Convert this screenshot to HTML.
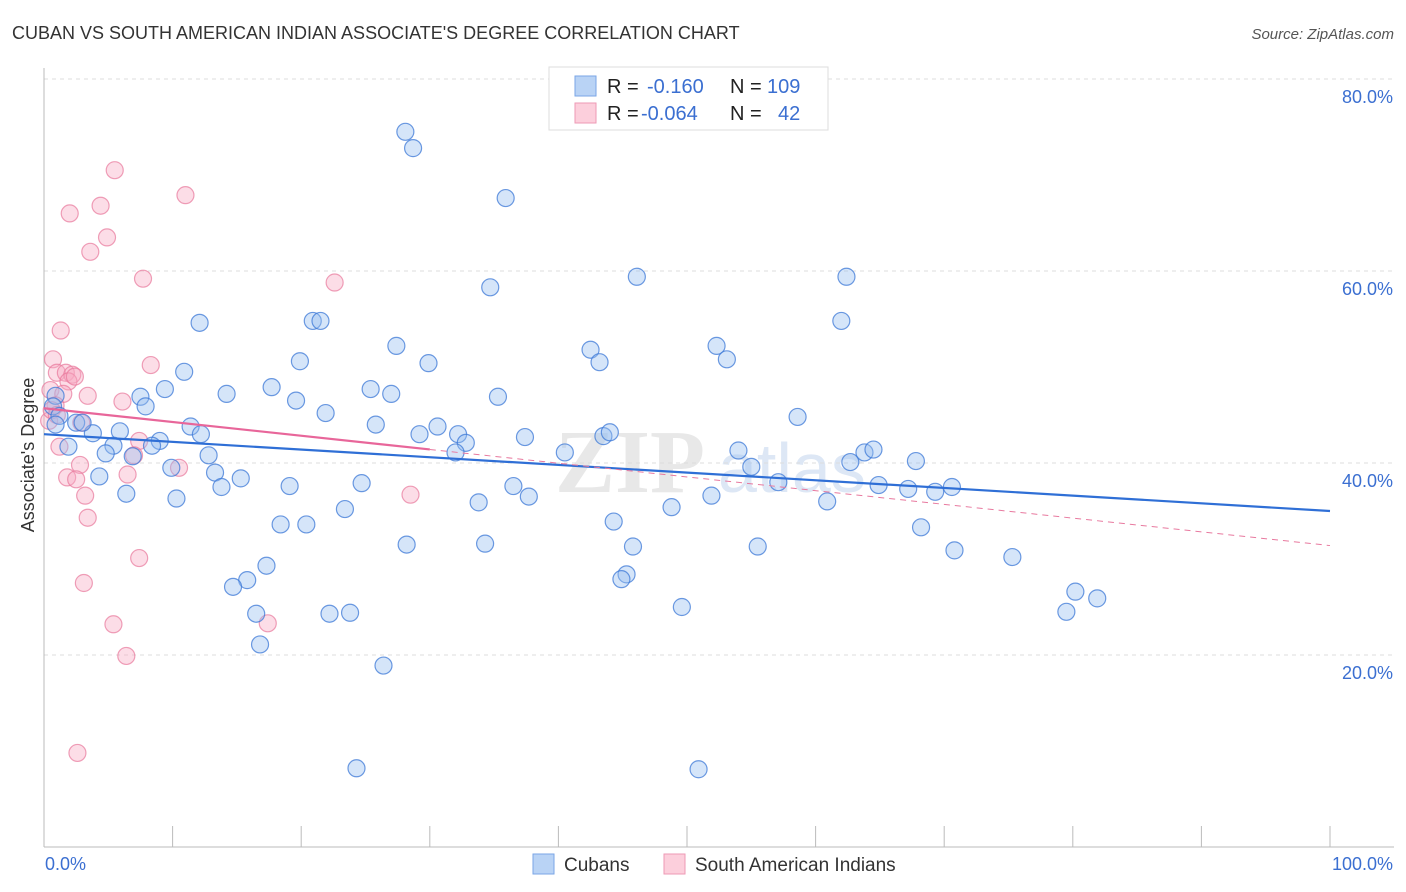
<!DOCTYPE html>
<html><head><meta charset="utf-8"><style>
body{margin:0;background:#fff;font-family:"Liberation Sans",sans-serif}
svg{display:block}
</style></head><body>
<svg id="chart" width="1406" height="892" xmlns="http://www.w3.org/2000/svg">
<text x="12" y="39" font-size="18" fill="#333">CUBAN VS SOUTH AMERICAN INDIAN ASSOCIATE'S DEGREE CORRELATION CHART</text>
<text x="1394" y="39" font-size="15" fill="#555" font-style="italic" text-anchor="end">Source: ZipAtlas.com</text>
<text x="555" y="492" font-size="90" fill="#e8e8e8" font-family="Liberation Serif,serif" font-weight="bold">ZIP</text>
<text x="718" y="492" font-size="70" fill="#dde7f5">atlas</text>
<g id="grid"></g>
<g id="axes"></g>
<g id="marks"></g>
<text x="34" y="455" font-size="18" fill="#333" text-anchor="middle" transform="rotate(-90 34 455)">Associate's Degree</text>
<g>
<rect x="549" y="67" width="279" height="63" fill="#fff" stroke="#ddd"/>
<rect x="575" y="76" width="21" height="20" fill="#b9d3f5" stroke="#7aa6e6"/>
<rect x="575" y="103" width="21" height="20" fill="#fccfdc" stroke="#ee9ab5"/>
<text x="607" y="93" font-size="20" fill="#222">R = <tspan fill="#3b6fd1" x="647">-0.160</tspan><tspan fill="#222" x="730">N = </tspan><tspan fill="#3b6fd1" x="767">109</tspan></text>
<text x="607" y="120" font-size="20" fill="#222">R = <tspan fill="#3b6fd1" x="641">-0.064</tspan><tspan fill="#222" x="730">N = </tspan><tspan fill="#3b6fd1" x="778">42</tspan></text>
</g>
<g>
<rect x="533" y="854" width="21" height="20" fill="#b9d3f5" stroke="#7aa6e6"/>
<text x="564" y="871" font-size="19" fill="#333">Cubans</text>
<rect x="664" y="854" width="21" height="20" fill="#fccfdc" stroke="#ee9ab5"/>
<text x="695" y="871" font-size="19" fill="#333">South American Indians</text>
</g>
</svg>
<script>
const yTicks=[20,40,60,80];
const yTickLabels=["20.0%","40.0%","60.0%","80.0%"];
const xTicks=[0,10,20,30,40,50,60,70,80,90,100];
const blueX=[28.1,28.7,35.9,34.7,46.1,62.4,12.1,20.9,21.5,62.0,27.4,42.5,52.3,53.1,43.2,29.9,19.9,10.9,9.4,17.7,25.4,27.0,14.2,7.5,19.6,35.3,7.9,0.9,0.7,1.2,2.5,21.9,58.6,25.8,11.4,30.6,3.8,5.9,12.2,29.2,32.2,37.4,43.5,44.0,9.0,5.4,8.4,32.8,1.9,54.0,63.8,64.5,32.0,40.5,4.8,6.9,12.8,62.7,67.8,55.0,9.9,13.3,4.3,15.3,13.8,24.7,19.1,57.1,64.9,67.2,69.3,70.6,36.5,37.7,6.4,10.3,33.8,51.9,60.9,23.4,48.8,18.4,20.4,44.3,68.2,28.2,34.3,45.8,55.5,70.8,75.3,17.3,15.8,45.3,44.9,14.7,80.2,81.9,49.6,79.5,16.5,22.2,23.8,16.8,26.4,24.3,50.9,0.9,3.0];
const blueY=[74.5,72.8,67.6,58.3,59.4,59.4,54.6,54.8,54.8,54.8,52.2,51.8,52.2,50.8,50.5,50.4,50.6,49.5,47.7,47.9,47.7,47.2,47.2,46.9,46.5,46.9,45.9,47.0,45.9,44.9,44.2,45.2,44.8,44.0,43.8,43.8,43.1,43.3,43.0,43.0,43.0,42.7,42.8,43.2,42.3,41.8,41.8,42.1,41.7,41.3,41.1,41.4,41.1,41.1,41.0,40.7,40.8,40.1,40.2,39.6,39.5,39.0,38.6,38.4,37.5,37.9,37.6,38.0,37.7,37.3,37.0,37.5,37.6,36.5,36.8,36.3,35.9,36.6,36.0,35.2,35.4,33.6,33.6,33.9,33.3,31.5,31.6,31.3,31.3,30.9,30.2,29.3,27.8,28.4,27.9,27.1,26.6,25.9,25.0,24.5,24.3,24.3,24.4,21.1,18.9,8.2,8.1,44.0,44.2];
const pinkX=[5.5,11.0,4.4,2.0,4.9,3.6,7.7,22.6,1.3,0.7,8.3,1.0,1.7,2.2,1.9,0.5,3.4,1.5,6.1,0.9,0.4,2.9,7.4,1.2,7.0,2.8,10.5,1.8,2.5,6.5,3.2,28.5,3.4,7.4,3.1,5.4,17.4,6.4,2.6,0.6,2.4,1.0];
const pinkY=[70.5,67.9,66.8,66.0,63.5,62.0,59.2,58.8,53.8,50.8,50.2,49.4,49.4,49.2,48.5,47.6,47.0,47.2,46.4,46.0,44.4,44.2,42.3,41.7,40.8,39.8,39.5,38.5,38.3,38.8,36.6,36.7,34.3,30.1,27.5,23.2,23.3,19.9,9.8,45.5,49.0,45.0];
const blueTrend=[43.0,35.0];
const pinkTrend=[45.7,31.4];
const pinkSolidEnd=30;
const NS="http://www.w3.org/2000/svg";
const X0=44,X1=1330,Y0=847,YPER=9.6;
const sx=v=>X0+(X1-X0)*v/100;
const sy=v=>Y0-v*YPER;
function mk(tag,attrs,parent){const e=document.createElementNS(NS,tag);for(const k in attrs)e.setAttribute(k,attrs[k]);parent.appendChild(e);return e;}
const grid=document.getElementById('grid'),axes=document.getElementById('axes'),marks=document.getElementById('marks');
yTicks.forEach((t,i)=>{
 const l=mk('line',{x1:X0,x2:1394,y1:sy(t),y2:sy(t),stroke:'#ddd','stroke-dasharray':'4,4'},grid);
 
 
 const tx=mk('text',{x:1393,y:sy(t)+24,'font-size':18,fill:'#3b6fd1','text-anchor':'end'},axes);
 tx.textContent=yTickLabels[i];
 
 
});
const ax=mk('line',{x1:X0,x2:1394,y1:Y0,y2:Y0,stroke:'#bbb'},axes);


const ay=mk('line',{x1:X0,x2:X0,y1:68,y2:Y0,stroke:'#bbb'},axes);


xTicks.forEach(t=>{
 const l=mk('line',{x1:sx(t),x2:sx(t),y1:826,y2:Y0,stroke:'#bbb'},axes);
 
 
});
const xl0=mk('text',{x:45,y:870,'font-size':18,fill:'#3b6fd1'},axes);xl0.textContent='0.0%';


const xl1=mk('text',{x:1393,y:870,'font-size':18,fill:'#3b6fd1','text-anchor':'end'},axes);xl1.textContent='100.0%';


pinkX.forEach((x,i)=>{
 const c=mk('circle',{cx:sx(x),cy:sy(pinkY[i]),r:8.5,fill:'rgba(248,170,195,0.4)',stroke:'rgba(232,120,155,0.7)','stroke-width':1.2},marks);
 
 
});
blueX.forEach((x,i)=>{
 const c=mk('circle',{cx:sx(x),cy:sy(blueY[i]),r:8.5,fill:'rgba(150,190,240,0.4)',stroke:'rgba(60,120,215,0.75)','stroke-width':1.2},marks);
 
 
});
const bt=mk('line',{x1:sx(0),y1:sy(blueTrend[0]),x2:sx(100),y2:sy(blueTrend[1]),stroke:'#2f6fd6','stroke-width':2.2},marks);


const pm=pinkTrend[0]+(pinkTrend[1]-pinkTrend[0])*pinkSolidEnd/100;
const pd=mk('line',{x1:sx(pinkSolidEnd),y1:sy(pm),x2:sx(100),y2:sy(pinkTrend[1]),stroke:'#e8799f','stroke-width':1,'stroke-dasharray':'6,5'},marks);


const ps=mk('line',{x1:sx(0),y1:sy(pinkTrend[0]),x2:sx(pinkSolidEnd),y2:sy(pm),stroke:'#e8669a','stroke-width':2.2},marks);


</script>
</body></html>
